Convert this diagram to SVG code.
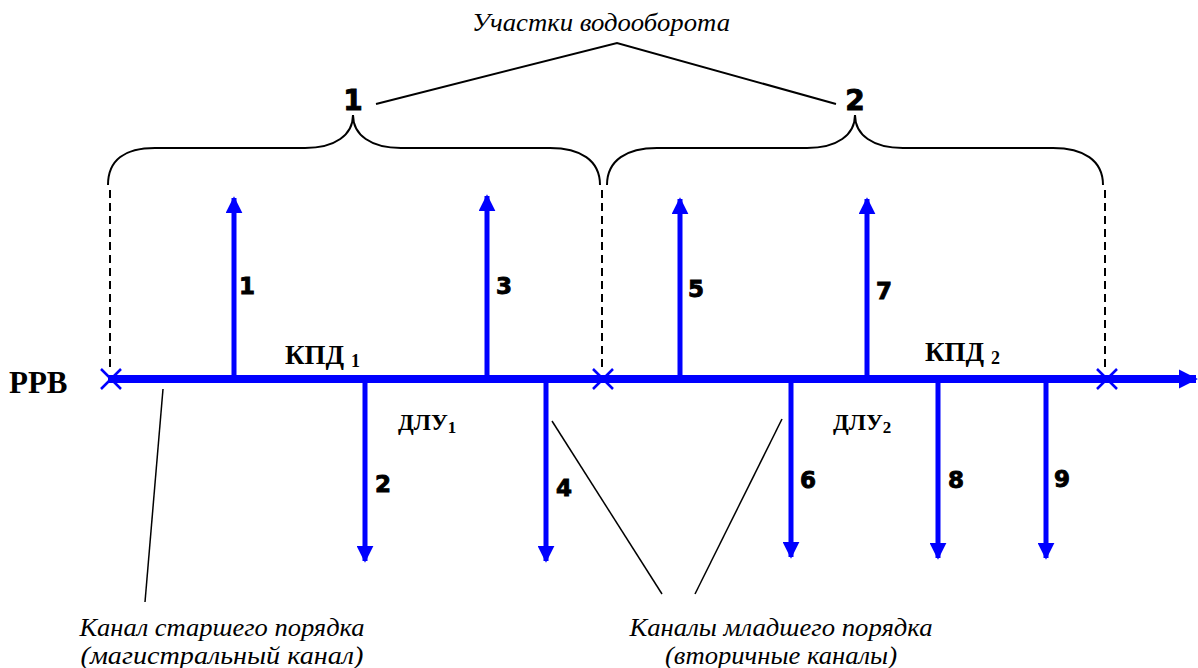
<svg xmlns="http://www.w3.org/2000/svg" width="1198" height="668" viewBox="0 0 1198 668">
<defs>
<style>
.ch{stroke:#0000ff;stroke-width:5;fill:none}
.main{stroke:#0000ff;stroke-width:8;fill:none}
.x{stroke:#0000ff;stroke-width:2.5}
.ln{stroke:#000;stroke-width:2;fill:none}
.dash{stroke:#000;stroke-width:2;stroke-dasharray:8,5;fill:none}
.num{font-family:'DejaVu Sans',sans-serif;font-weight:bold;font-size:23px;fill:#000;stroke:#000;stroke-width:0.9}
.big{font-family:'DejaVu Sans',sans-serif;font-weight:bold;font-size:28px;fill:#000;stroke:#000;stroke-width:0.9}
.lbl{font-family:'Liberation Serif',serif;font-weight:bold;fill:#000}
.it{font-family:'Liberation Serif',serif;font-style:italic;font-size:25px;fill:#000}
</style>
<marker id="ah" viewBox="0 0 10 10" refX="9" refY="5" markerWidth="3.4" markerHeight="3.4" markerUnits="strokeWidth" orient="auto"><path d="M0,0 L10,5 L0,10 z" fill="#0000ff"/></marker>
<marker id="ahm" viewBox="0 0 10 10" refX="9" refY="5" markerWidth="2.4" markerHeight="2.8" markerUnits="strokeWidth" orient="auto"><path d="M0,0 L10,5 L0,10 z" fill="#0000ff"/></marker>
</defs>
<rect width="1198" height="668" fill="#fff"/>

<g id="title">
<text class="it" x="601" y="31" text-anchor="middle" textLength="258" lengthAdjust="spacingAndGlyphs">Участки водооборота</text>
<path class="ln" d="M376,104 L617,43 L836,104"/>
</g>

<g id="section1">
<text class="big" x="353" y="110" text-anchor="middle">1</text>
<path class="ln" d="M108,185 C108,160 125,148 155,148 L305,148 C335,148 353,135 353,115 C353,135 371,148 401,148 L550,148 C580,148 600,160 600,185"/>
</g>
<g id="section2">
<text class="big" x="855" y="110" text-anchor="middle">2</text>
<path class="ln" d="M607,185 C607,160 627,148 657,148 L807,148 C837,148 855,135 855,115 C855,135 873,148 903,148 L1053,148 C1083,148 1103,160 1103,185"/>
</g>

<g id="connectors">
<path class="dash" d="M110,190 L110,372"/>
<path class="dash" d="M602,190 L602,372"/>
<path class="dash" d="M1105,190 L1105,372"/>
<line class="main" x1="108" y1="379" x2="1196" y2="379" marker-end="url(#ahm)"/>
<line class="ch" x1="234" y1="379" x2="234" y2="198" marker-end="url(#ah)"/>
<line class="ch" x1="487" y1="379" x2="487" y2="196" marker-end="url(#ah)"/>
<line class="ch" x1="680" y1="379" x2="680" y2="199" marker-end="url(#ah)"/>
<line class="ch" x1="867" y1="379" x2="867" y2="199" marker-end="url(#ah)"/>
<line class="ch" x1="365" y1="379" x2="365" y2="561" marker-end="url(#ah)"/>
<line class="ch" x1="546" y1="379" x2="546" y2="561" marker-end="url(#ah)"/>
<line class="ch" x1="791" y1="379" x2="791" y2="557" marker-end="url(#ah)"/>
<line class="ch" x1="938" y1="379" x2="938" y2="558" marker-end="url(#ah)"/>
<line class="ch" x1="1046" y1="379" x2="1046" y2="558" marker-end="url(#ah)"/>
<path class="x" d="M101,369 L121,389 M121,369 L101,389"/>
<path class="x" d="M593,369 L613,389 M613,369 L593,389"/>
<path class="x" d="M1097,369 L1117,389 M1117,369 L1097,389"/>
<path class="ln" style="stroke-width:1.5" d="M163,389 L145,602"/>
<path class="ln" style="stroke-width:1.5" d="M552,421 L662,594"/>
<path class="ln" style="stroke-width:1.5" d="M782,419 L695,594"/>
</g>

<g id="labels">
<text class="num" x="239" y="294">1</text>
<text class="num" x="496" y="294">3</text>
<text class="num" x="688" y="297">5</text>
<text class="num" x="876" y="299">7</text>
<text class="num" x="375" y="492">2</text>
<text class="num" x="556" y="496">4</text>
<text class="num" x="800" y="488">6</text>
<text class="num" x="948" y="488">8</text>
<text class="num" x="1054" y="487">9</text>
<text class="lbl" x="9" y="393" font-size="31">РРВ</text>
<text class="lbl" x="285" y="364" font-size="27">КПД <tspan font-size="18" dy="3">1</tspan></text>
<text class="lbl" x="925" y="361" font-size="27">КПД <tspan font-size="18" dy="3">2</tspan></text>
<text class="lbl" x="398" y="430" font-size="23">ДЛУ<tspan font-size="17" dy="3">1</tspan></text>
<text class="lbl" x="833" y="430" font-size="23">ДЛУ<tspan font-size="17" dy="3">2</tspan></text>
</g>

<g id="captions">
<text class="it" x="222" y="636" text-anchor="middle" textLength="285" lengthAdjust="spacingAndGlyphs">Канал старшего порядка</text>
<text class="it" x="222" y="664" text-anchor="middle" textLength="283" lengthAdjust="spacingAndGlyphs">(магистральный канал)</text>
<text class="it" x="781" y="636" text-anchor="middle" textLength="303" lengthAdjust="spacingAndGlyphs">Каналы младшего порядка</text>
<text class="it" x="781" y="664" text-anchor="middle" textLength="232" lengthAdjust="spacingAndGlyphs">(вторичные каналы)</text>
</g>
</svg>
